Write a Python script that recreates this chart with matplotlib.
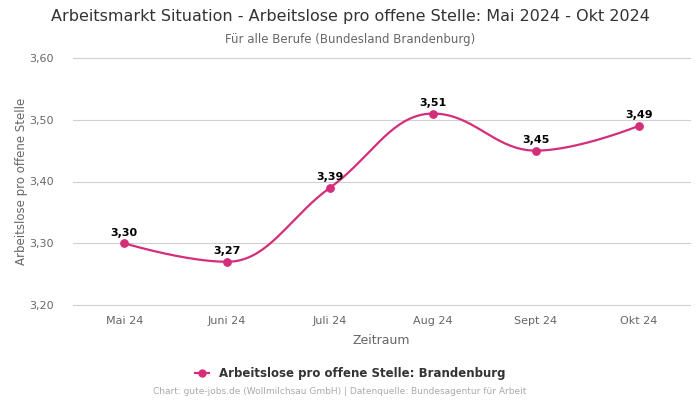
import numpy as np
import matplotlib
matplotlib.use('Agg')
import matplotlib.pyplot as plt
from matplotlib.lines import Line2D

months = ['Mai 24', 'Juni 24', 'Juli 24', 'Aug 24', 'Sept 24', 'Okt 24']
values = [3.30, 3.27, 3.39, 3.51, 3.45, 3.49]
yticks = [3.20, 3.30, 3.40, 3.50, 3.60]

line_color = '#d42e7b'
text_gray = '#666666'


def spline_path(xs, ys, smoothing=1.5, n=40):
    # smooth curve through the points, flat at local extremes
    denom = smoothing + 1
    m = len(xs)
    lc = [(xs[i], ys[i]) for i in range(m)]
    rc = [(xs[i], ys[i]) for i in range(m)]
    for i in range(1, m - 1):
        px, py = xs[i], ys[i]
        lx, ly = xs[i - 1], ys[i - 1]
        nx, ny = xs[i + 1], ys[i + 1]
        lcx = (smoothing * px + lx) / denom
        lcy = (smoothing * py + ly) / denom
        rcx = (smoothing * px + nx) / denom
        rcy = (smoothing * py + ny) / denom
        if rcx != lcx:
            corr = (rcy - lcy) * (rcx - px) / (rcx - lcx) + py - rcy
            lcy += corr
            rcy += corr
        if lcy > ly and lcy > py:
            lcy = max(ly, py)
            rcy = 2 * py - lcy
        elif lcy < ly and lcy < py:
            lcy = min(ly, py)
            rcy = 2 * py - lcy
        if rcy > ny and rcy > py:
            rcy = max(ny, py)
            lcy = 2 * py - rcy
        elif rcy < ny and rcy < py:
            rcy = min(ny, py)
            lcy = 2 * py - rcy
        lc[i] = (lcx, lcy)
        rc[i] = (rcx, rcy)
    px_all, py_all = [], []
    t = np.linspace(0, 1, n)
    for i in range(1, m):
        p0 = np.array([xs[i - 1], ys[i - 1]])
        p1 = np.array(rc[i - 1])
        p2 = np.array(lc[i])
        p3 = np.array([xs[i], ys[i]])
        pts = ((1 - t) ** 3)[:, None] * p0 + (3 * (1 - t) ** 2 * t)[:, None] * p1 \
            + (3 * (1 - t) * t ** 2)[:, None] * p2 + (t ** 3)[:, None] * p3
        px_all.extend(pts[:, 0])
        py_all.extend(pts[:, 1])
    return px_all, py_all


fig = plt.figure(figsize=(7, 4), dpi=100)
ax = fig.add_axes([0.104, 0.2375, 0.882, 0.6175])

x = np.arange(len(months))
sx, sy = spline_path(list(x), values)
ax.plot(sx, sy, color=line_color, linewidth=1.6, zorder=3)
ax.scatter(x, values, color=line_color, s=28, zorder=4)

for xi, v in zip(x, values):
    ax.annotate(f'{v:.2f}'.replace('.', ','), (xi, v), xytext=(0, 4),
                textcoords='offset points', ha='center', va='bottom',
                fontsize=8, fontweight='bold', color='black')

ax.set_xlim(-0.5, len(months) - 0.5)
ax.set_ylim(3.20, 3.60)
ax.set_yticks(yticks)
ax.set_yticklabels([f'{t:.2f}'.replace('.', ',') for t in yticks])
ax.set_xticks(x)
ax.set_xticklabels(months)
ax.tick_params(axis='both', length=0, labelsize=8, labelcolor=text_gray)
ax.tick_params(axis='x', pad=8)
ax.tick_params(axis='y', pad=14)
for t in yticks:
    ax.axhline(t, color='#d0d0d0', linewidth=0.8, zorder=1, clip_on=False)
for s in ax.spines.values():
    s.set_visible(False)

ax.set_xlabel('Zeitraum', fontsize=9, color=text_gray, labelpad=6)
ax.set_ylabel('Arbeitslose pro offene Stelle', fontsize=8.5, color=text_gray)
ax.yaxis.set_label_coords(-0.072, 0.5)

fig.text(0.5, 0.958, 'Arbeitsmarkt Situation - Arbeitslose pro offene Stelle: Mai 2024 - Okt 2024',
         ha='center', va='center', fontsize=11.5, color='#333333')
fig.text(0.5, 0.902, 'Für alle Berufe (Bundesland Brandenburg)',
         ha='center', va='center', fontsize=8.5, color=text_gray)

handle = Line2D([0], [0], color=line_color, marker='o', markersize=5, linewidth=1.6)
fig.legend([handle], ['Arbeitslose pro offene Stelle: Brandenburg'], loc='center',
           bbox_to_anchor=(0.5, 0.066), frameon=False, handlelength=1.2,
           prop={'size': 8.5, 'weight': 'bold'}, labelcolor='#333333')

fig.text(0.485, 0.02, 'Chart: gute-jobs.de (Wollmilchsau GmbH) | Datenquelle: Bundesagentur für Arbeit',
         ha='center', va='center', fontsize=6.5, color='#aaaaaa')

fig.savefig('out.png', dpi=100)
